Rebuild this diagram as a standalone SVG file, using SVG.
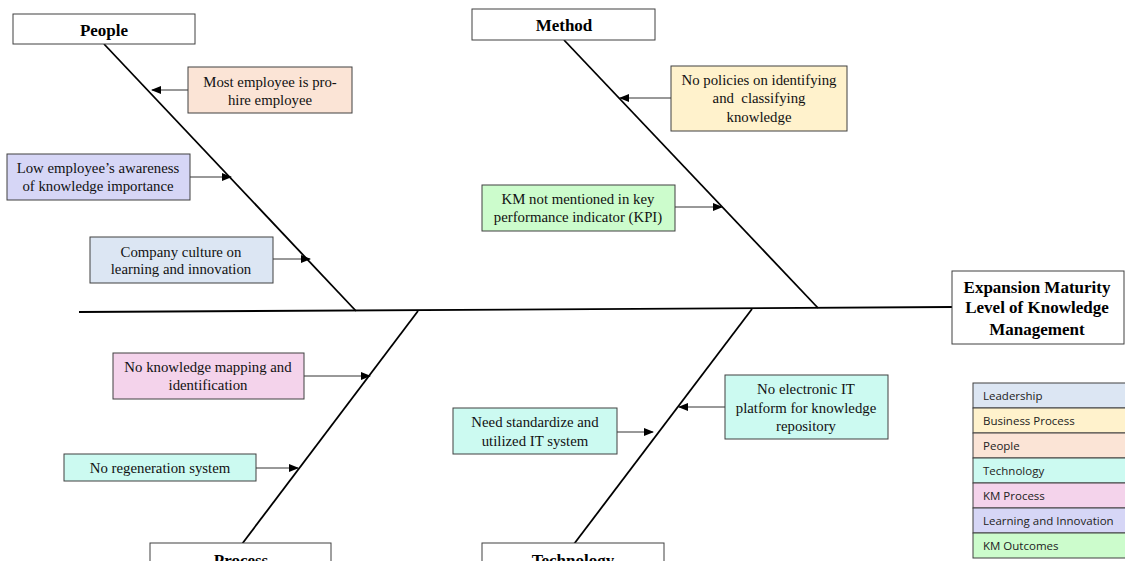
<svg xmlns="http://www.w3.org/2000/svg" width="1125" height="561" viewBox="0 0 1125 561">
<style>
.box{stroke:#404040;stroke-width:1}
.t{font-family:"Liberation Serif","Times New Roman",serif;font-size:14.8px;fill:#111;text-anchor:middle}
.h{font-family:"Liberation Serif","Times New Roman",serif;font-size:17px;font-weight:bold;fill:#000;text-anchor:middle}
.hb{font-family:"Liberation Serif","Times New Roman",serif;font-size:17px;font-weight:bold;fill:#000;text-anchor:middle}
.lg{font-family:"Open Sans","Liberation Sans",sans-serif;font-size:11.5px;fill:#222}
.bone{stroke:#000;stroke-width:1.8;fill:none}
.arr{stroke:#333;stroke-width:1;fill:none;marker-end:url(#ah)}
</style>
<defs>
<marker id="ah" markerWidth="10" markerHeight="8" refX="9" refY="4" orient="auto" markerUnits="userSpaceOnUse">
<path d="M0,0 L10,4 L0,8 Z" fill="#000"/>
</marker>
</defs>
<rect width="1125" height="561" fill="#fff"/>
<g id="connectors">
<line class="bone" x1="79" y1="312" x2="952" y2="307"/>
<line class="bone" x1="104" y1="44" x2="356" y2="311"/>
<line class="bone" x1="564" y1="40" x2="818" y2="308"/>
<line class="bone" x1="418" y1="311" x2="242" y2="544"/>
<line class="bone" x1="752" y1="309" x2="574" y2="544"/>
<line class="arr" x1="188" y1="90" x2="152" y2="90"/>
<line class="arr" x1="190" y1="177" x2="231" y2="177"/>
<line class="arr" x1="273" y1="259" x2="310" y2="259"/>
<line class="arr" x1="671" y1="98" x2="620" y2="98"/>
<line class="arr" x1="675" y1="207" x2="722" y2="207"/>
<line class="arr" x1="304" y1="376" x2="370" y2="376"/>
<line class="arr" x1="256" y1="468" x2="298" y2="468"/>
<line class="arr" x1="617" y1="432" x2="653" y2="432"/>
<line class="arr" x1="725" y1="407" x2="679" y2="407"/>
</g>
<g id="people">
<rect class="box" x="13" y="14" width="182" height="30" fill="#fff"/>
<text class="h" x="104" y="36">People</text>
</g>
<g id="method">
<rect class="box" x="472" y="9" width="183" height="31" fill="#fff"/>
<text class="h" x="564" y="31">Method</text>
</g>
<g id="process">
<rect class="box" x="150" y="543" width="181" height="30" fill="#fff"/>
<text class="h" x="241" y="566">Process</text>
</g>
<g id="technology">
<rect class="box" x="482" y="543" width="182" height="30" fill="#fff"/>
<text class="h" x="573" y="566">Technology</text>
</g>
<g id="effect">
<rect class="box" x="952" y="271" width="172" height="73" fill="#fff"/>
<text class="hb" x="1037" y="293">Expansion Maturity</text>
<text class="hb" x="1037" y="313">Level of Knowledge</text>
<text class="hb" x="1037" y="335">Management</text>
</g>
<g id="c-prohire">
<rect class="box" x="188" y="67" width="164" height="46" fill="#fbe4d6"/>
<text class="t" x="270" y="87">Most employee is pro-</text>
<text class="t" x="270" y="105">hire employee</text>
</g>
<g id="c-awareness">
<rect class="box" x="7" y="154" width="183" height="46" fill="#d6d6f6"/>
<text class="t" x="98" y="173">Low employee’s awareness</text>
<text class="t" x="98" y="191">of knowledge importance</text>
</g>
<g id="c-culture">
<rect class="box" x="90" y="237" width="183" height="46" fill="#dce6f3"/>
<text class="t" x="181" y="257">Company culture on</text>
<text class="t" x="181" y="274">learning and innovation</text>
</g>
<g id="c-policies">
<rect class="box" x="671" y="66" width="176" height="65" fill="#fff2cc"/>
<text class="t" x="759" y="85">No policies on identifying</text>
<text class="t" x="759" y="103" xml:space="preserve">and  classifying</text>
<text class="t" x="759" y="122">knowledge</text>
</g>
<g id="c-kpi">
<rect class="box" x="482" y="185" width="193" height="46" fill="#ccfccc"/>
<text class="t" x="578" y="204">KM not mentioned in key</text>
<text class="t" x="578" y="222">performance indicator (KPI)</text>
</g>
<g id="c-mapping">
<rect class="box" x="113" y="353" width="191" height="46" fill="#f4d3eb"/>
<text class="t" x="208" y="372">No knowledge mapping and</text>
<text class="t" x="208" y="390">identification</text>
</g>
<g id="c-regeneration">
<rect class="box" x="64" y="454" width="192" height="27" fill="#ccfaf1"/>
<text class="t" x="160" y="473">No regeneration system</text>
</g>
<g id="c-standardize">
<rect class="box" x="453" y="408" width="164" height="46" fill="#ccfaf1"/>
<text class="t" x="535" y="427">Need standardize and</text>
<text class="t" x="535" y="446">utilized IT system</text>
</g>
<g id="c-platform">
<rect class="box" x="725" y="375" width="163" height="64" fill="#ccfaf1"/>
<text class="t" x="806" y="394">No electronic IT</text>
<text class="t" x="806" y="413">platform for knowledge</text>
<text class="t" x="806" y="431">repository</text>
</g>
<g id="legend">
<rect class="box" x="973" y="383" width="160" height="25" fill="#dce6f3"/>
<rect class="box" x="973" y="408" width="160" height="25" fill="#fff2cc"/>
<rect class="box" x="973" y="433" width="160" height="25" fill="#fbe4d6"/>
<rect class="box" x="973" y="458" width="160" height="25" fill="#ccfaf1"/>
<rect class="box" x="973" y="483" width="160" height="25" fill="#f4d3eb"/>
<rect class="box" x="973" y="508" width="160" height="25" fill="#d6d6f6"/>
<rect class="box" x="973" y="533" width="160" height="25" fill="#ccfccc"/>
<text class="lg" x="983" y="400">Leadership</text>
<text class="lg" x="983" y="425">Business Process</text>
<text class="lg" x="983" y="450">People</text>
<text class="lg" x="983" y="475">Technology</text>
<text class="lg" x="983" y="500">KM Process</text>
<text class="lg" x="983" y="525">Learning and Innovation</text>
<text class="lg" x="983" y="550">KM Outcomes</text>
</g>
</svg>
